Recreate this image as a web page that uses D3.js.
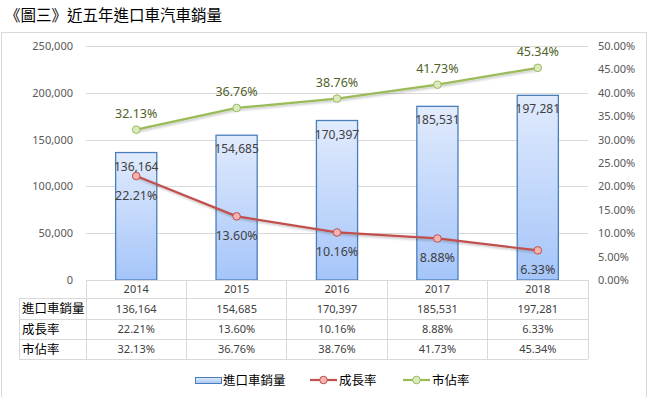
<!DOCTYPE html>
<html>
<head>
<meta charset="utf-8">
<script src="https://cdn.jsdelivr.net/npm/d3@7"></script>
<style>
  body { margin: 0; background: #fff; }
  svg { display: block; font-family: "Noto Sans", "Noto Sans CJK TC", sans-serif; }
</style>
</head>
<body>
<svg id="chart" width="648" height="397"></svg>
<script>
// data
const years = ["2014", "2015", "2016", "2017", "2018"];
const sales = [136164, 154685, 170397, 185531, 197281];
const growth = [0.2221, 0.1360, 0.1016, 0.0888, 0.0633];
const share = [0.3213, 0.3676, 0.3876, 0.4173, 0.4534];
const leftTicks = [0, 50000, 100000, 150000, 200000, 250000];
const rightTicks = [0, 0.05, 0.10, 0.15, 0.20, 0.25, 0.30, 0.35, 0.40, 0.45, 0.50];
const rowNames = ["進口車銷量", "成長率", "市佔率"];

const svg = d3.select('#chart');
const plotL = 86, plotR = 588, plotT = 46, base = 280;
const txt = '#404040';

const x = d3.scaleBand().domain(years).range([plotL, plotR]);
const yL = d3.scaleLinear().domain([0, 250000]).range([base, plotT]);
const yR = d3.scaleLinear().domain([0, 0.5]).range([base, plotT]);
const fmtN = d3.format(',');
const fmtP = d3.format('.2%');

// title
svg.append('text')
    .attr('x', 5).attr('y', 21)
    .style('font-family', '"Noto Sans CJK TC"')
    .style('font-size', '15.5px')
    .attr('fill', '#000')
    .text('《圖三》近五年進口車汽車銷量');

// chart border
svg.append('rect')
    .attr('x', 1.5).attr('y', 32.5)
    .attr('width', 645).attr('height', 380)
    .attr('fill', 'none').attr('stroke', '#d9d9d9');

const defs = svg.append('defs');
const grad = defs.append('linearGradient')
    .attr('id', 'barGrad').attr('x1', 0).attr('y1', 0).attr('x2', 0).attr('y2', 1);
grad.append('stop').attr('offset', '0%').attr('stop-color', '#e1ebfd');
grad.append('stop').attr('offset', '100%').attr('stop-color', '#a5c5f9');

const shadow = defs.append('filter').attr('id', 'shadow')
    .attr('x', '-5%').attr('y', '-20%').attr('width', '110%').attr('height', '140%');
shadow.append('feDropShadow')
    .attr('dx', 1).attr('dy', 1.5).attr('stdDeviation', 1)
    .attr('flood-color', '#000').attr('flood-opacity', 0.25);

// gridlines
svg.append('g').selectAll('line')
    .data(leftTicks.slice(1))
    .join('line')
    .attr('x1', plotL).attr('x2', plotR)
    .attr('y1', d => Math.round(yL(d)) + 0.5)
    .attr('y2', d => Math.round(yL(d)) + 0.5)
    .attr('stroke', '#d9d9d9');

// axes
const axL = svg.append('g')
    .attr('transform', 'translate(73,0)')
    .call(d3.axisLeft(yL).tickValues(leftTicks).tickFormat(fmtN).tickSize(0).tickPadding(0));
axL.select('.domain').remove();
axL.selectAll('text')
    .style('font-size', '11px').attr('fill', '#595959')
    .style('font-family', '"Noto Sans"');

const axR = svg.append('g')
    .attr('transform', 'translate(598,0)')
    .call(d3.axisRight(yR).tickValues(rightTicks).tickFormat(fmtP).tickSize(0).tickPadding(0));
axR.select('.domain').remove();
axR.selectAll('text')
    .style('font-size', '11px').attr('fill', '#595959')
    .style('font-family', '"Noto Sans"');

// bars
const bw = x.bandwidth() * 0.41;
const cx = d => x(d) + x.bandwidth() / 2;

svg.append('g').selectAll('rect')
    .data(sales)
    .join('rect')
    .attr('x', (d, i) => cx(years[i]) - bw / 2)
    .attr('y', d => yL(d))
    .attr('width', bw)
    .attr('height', d => base - yL(d))
    .attr('fill', 'url(#barGrad)')
    .attr('stroke', '#4a7ebb')
    .attr('stroke-width', 1.3);

svg.append('g').selectAll('text')
    .data(sales)
    .join('text')
    .attr('x', (d, i) => cx(years[i]))
    .attr('y', d => yL(d) + 18)
    .attr('text-anchor', 'middle')
    .style('font-size', '12px')
    .attr('fill', txt)
    .text(d => fmtN(d));

// lines
function drawLine(vals, stroke, fill, labelColor, dy) {
    const line = d3.line()
        .x((d, i) => cx(years[i]))
        .y(d => yR(d));
    svg.append('path')
        .datum(vals)
        .attr('d', line)
        .attr('fill', 'none')
        .attr('stroke', stroke)
        .attr('stroke-width', 2.2)
        .attr('filter', 'url(#shadow)');
    svg.append('g').selectAll('circle')
        .data(vals)
        .join('circle')
        .attr('cx', (d, i) => cx(years[i]))
        .attr('cy', d => yR(d))
        .attr('r', 3.8)
        .attr('fill', fill)
        .attr('stroke', stroke)
        .attr('stroke-width', 1);
    svg.append('g').selectAll('text')
        .data(vals)
        .join('text')
        .attr('x', (d, i) => cx(years[i]))
        .attr('y', d => yR(d) + dy)
        .attr('text-anchor', 'middle')
        .style('font-size', '12.5px')
        .attr('fill', labelColor)
        .text(d => fmtP(d));
}
drawLine(share, '#9bbb59', '#dcebbf', '#4f6228', -12);
drawLine(growth, '#c0504d', '#f4b3b1', txt, 24);

// data table
const rowY = [280, 298, 319, 339, 359];
const tLeft = 19;
const table = svg.append('g').attr('stroke', '#d9d9d9').attr('shape-rendering', 'crispEdges');
table.append('line').attr('x1', plotL).attr('x2', plotR).attr('y1', rowY[0]).attr('y2', rowY[0]);
rowY.slice(1).forEach(yy => {
    table.append('line').attr('x1', tLeft).attr('x2', plotR).attr('y1', yy).attr('y2', yy);
});
table.append('line').attr('x1', tLeft).attr('x2', tLeft).attr('y1', rowY[1]).attr('y2', rowY[4]);
years.forEach(yr => {
    table.append('line').attr('x1', x(yr)).attr('x2', x(yr)).attr('y1', rowY[0]).attr('y2', rowY[4]);
});
table.append('line').attr('x1', plotR).attr('x2', plotR).attr('y1', rowY[0]).attr('y2', rowY[4]);

const cellText = (xx, yy, s, anchor) => svg.append('text')
    .attr('x', xx).attr('y', yy)
    .attr('text-anchor', anchor)
    .style('font-size', '11px')
    .attr('fill', txt)
    .text(s);

years.forEach(yr => cellText(cx(yr), 293, yr, 'middle'));
const rows = [sales.map(fmtN), growth.map(fmtP), share.map(fmtP)];
rows.forEach((r, ri) => {
    const yy = (rowY[ri + 1] + rowY[ri + 2]) / 2 + 4;
    svg.append('text')
        .attr('x', 22).attr('y', yy + 0.5)
        .style('font-family', '"Noto Sans CJK TC"')
        .style('font-size', '12.5px')
        .attr('fill', '#000')
        .text(rowNames[ri]);
    r.forEach((v, i) => cellText(cx(years[i]), yy, v, 'middle'));
});

// legend
const lg = svg.append('g').style('font-family', '"Noto Sans CJK TC"');
lg.append('rect')
    .attr('x', 195.5).attr('y', 377.5).attr('width', 26).attr('height', 6)
    .attr('fill', 'url(#barGrad)').attr('stroke', '#4a7ebb');
lg.append('text').attr('x', 223).attr('y', 385).style('font-size', '12.5px').attr('fill', '#000').text(rowNames[0]);

const legLine = (x0, stroke, fill, label) => {
    lg.append('line').attr('x1', x0).attr('x2', x0 + 27).attr('y1', 380).attr('y2', 380)
        .attr('stroke', stroke).attr('stroke-width', 2.2);
    lg.append('circle').attr('cx', x0 + 13.5).attr('cy', 380).attr('r', 3.8)
        .attr('fill', fill).attr('stroke', stroke);
    lg.append('text').attr('x', x0 + 29).attr('y', 385).style('font-size', '12.5px').attr('fill', '#000').text(label);
};
legLine(310, '#c0504d', '#f4b3b1', rowNames[1]);
legLine(403, '#9bbb59', '#dcebbf', rowNames[2]);
</script>
</body>
</html>
